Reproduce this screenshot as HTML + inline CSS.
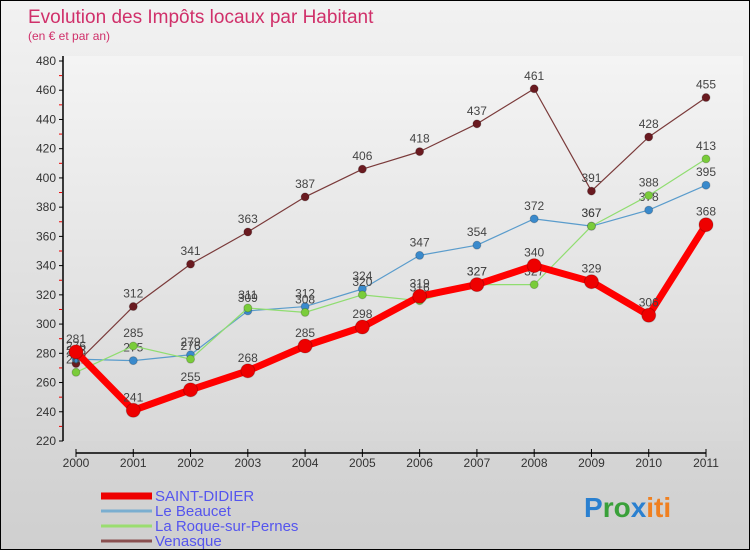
<!DOCTYPE html>
<html><head><meta charset="utf-8"><style>
body{margin:0;}
#wrap{width:750px;height:550px;position:relative;box-sizing:border-box;border:1px solid #000;background:linear-gradient(#f2f2f2,#cfcfcf);font-family:"Liberation Sans",sans-serif;overflow:hidden}
svg text{font-family:"Liberation Sans",sans-serif}
</style></head><body>
<div id="wrap">
<svg id="c" width="750" height="550">
<defs><linearGradient id="pg" x1="0" y1="0" x2="0" y2="1"><stop offset="0" stop-color="#f4f4f4"/><stop offset="1" stop-color="#d8d8d8"/></linearGradient></defs>
<text x="27" y="22" font-size="19" fill="#d0306a">Evolution des Impôts locaux par Habitant</text>
<text x="27" y="39" font-size="12" fill="#d0306a">(en € et par an)</text>
<g id="g"></g>
</svg>
</div>
<script>
const years=[2000,2001,2002,2003,2004,2005,2006,2007,2008,2009,2010,2011];
const yTicks=[220,240,260,280,300,320,340,360,380,400,420,440,460,480];
const saintDidier=[281,241,255,268,285,298,319,327,340,329,306,368];
const leBeaucet=[276,275,279,309,312,324,347,354,372,367,378,395];
const laRoque=[267,285,276,311,308,320,316,327,327,367,388,413];
const venasque=[273,312,341,363,387,406,418,437,461,391,428,455];
const NS='http://www.w3.org/2000/svg';
const g=document.getElementById('g');
function X(i){return 75+i*(630/11);}
function Y(v){return 440-(v-220)*(380/260);}
function mk(t,a,p){const e=document.createElementNS(NS,t);for(const k in a)e.setAttribute(k,a[k]);(p||g).appendChild(e);return e;}
const bg=mk('rect',{x:62,y:55,width:680,height:385,fill:'url(#pg)'});


// y axis
const ya=mk('line',{x1:62,y1:55,x2:62,y2:440,stroke:'#000','stroke-width':1.5});


yTicks.forEach((v,i)=>{
 mk('line',{x1:58,y1:Y(v),x2:62,y2:Y(v),stroke:'#000'});
 if(i<yTicks.length-1)mk('line',{x1:58,y1:Y(v+10),x2:61,y2:Y(v+10),stroke:'#e00'});
 const t=mk('text',{x:55,y:Y(v)+4,'font-size':12,'text-anchor':'end',fill:'#333'});t.textContent=v;
 
 
});
const xa=mk('line',{x1:75,y1:452,x2:705,y2:452,stroke:'#000','stroke-width':1.5});


years.forEach((y,i)=>{
 mk('line',{x1:X(i),y1:448,x2:X(i),y2:456,stroke:'#000'});
 const t=mk('text',{x:X(i),y:466,'font-size':12,'text-anchor':'middle',fill:'#333'});t.textContent=y;
 
 
});
function series(data,color,w,r,name,dot){
 const s=mk('g',{});
 
 
 mk('polyline',{points:data.map((v,i)=>X(i)+','+Y(v)).join(' '),fill:'none',stroke:color,'stroke-width':w,'stroke-linejoin':'round'},s);
 data.forEach((v,i)=>{
  const c=mk('circle',{cx:X(i),cy:Y(v),r:r,fill:dot,stroke:'#0003'},s);
  
  
  const t=mk('text',{x:X(i),y:Y(v)-9,'font-size':12,'text-anchor':'middle',fill:'#444'},s);t.textContent=v;
  
  
 });
}
series(venasque,'#7a3a3a',1.2,4,'venasque-series','#6a1a20');
series(leBeaucet,'#5a9ccc',1.2,4,'le-beaucet-series','#3a8acc');
series(laRoque,'#90dd70',1.2,4,'la-roque-series','#7acc3a');
series(saintDidier,'#ff0000',7,7,'saint-didier-series','#ee0000');
// legend
const leg=[['SAINT-DIDIER','#ee0000',7],['Le Beaucet','#7aaed0',3],['La Roque-sur-Pernes','#9add70',3],['Venasque','#8a5050',3]];
leg.forEach((l,i)=>{
 const yy=493+i*15;
 const e=mk('g',{});
 
 
 mk('line',{x1:100,y1:yy+2,x2:151,y2:yy+2,stroke:l[1],'stroke-width':l[2]},e);
 const t=mk('text',{x:154,y:yy+7,'font-size':15,fill:'#5555ee'},e);t.textContent=l[0];
});
const lg=mk('text',{x:583,y:516,'font-size':28,'font-weight':'bold'});


[['P','#2a80d0'],['ro','#3aa03a'],['x','#2a80d0'],['iti','#f08020']].forEach(p=>{const s=mk('tspan',{fill:p[1]},lg);s.textContent=p[0];});
</script>
</body></html>
